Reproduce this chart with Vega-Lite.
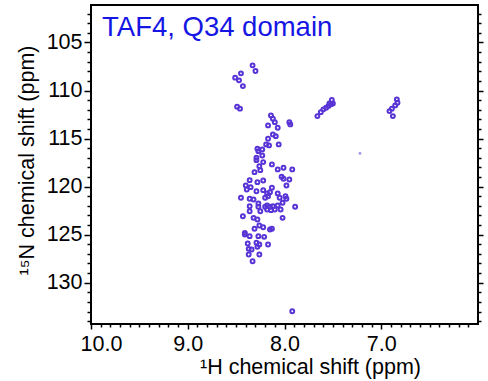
{
  "$schema": "https://vega.github.io/schema/vega-lite/v6.json",
  "width": 387,
  "height": 319,
  "autosize": {"type": "none"},
  "padding": {"left": 91, "top": 5, "right": 10, "bottom": 57},
  "background": "white",
  "config": {
    "view": {"stroke": "black", "strokeWidth": 2},
    "font": "Liberation Sans",
    "axis": {
      "grid": false, "domain": false, "tickColor": "black", "labelColor": "black", "titleColor": "black",
      "labelFont": "Liberation Sans", "titleFont": "Liberation Sans", "labelFontSize": 21.5, "titleFontSize": 21.5,
      "titleFontWeight": "normal", "tickWidth": 1.5
    }
  },
  "datasets": {
    "peaks": [
      {"H": 8.33, "N": 107.38}, {"H": 8.30, "N": 107.97}, {"H": 8.51, "N": 108.66}, {"H": 8.45, "N": 108.21},
      {"H": 8.47, "N": 108.94}, {"H": 8.43, "N": 109.54}, {"H": 8.49, "N": 111.68}, {"H": 8.46, "N": 111.89},
      {"H": 7.66, "N": 112.66}, {"H": 7.625, "N": 112.25}, {"H": 7.598, "N": 111.96}, {"H": 7.57, "N": 111.79},
      {"H": 7.546, "N": 111.62}, {"H": 7.518, "N": 111.44}, {"H": 7.50, "N": 111.34}, {"H": 7.511, "N": 110.99},
      {"H": 7.536, "N": 111.34},
      {"H": 6.88, "N": 112.66}, {"H": 6.915, "N": 112.14}, {"H": 6.89, "N": 111.89}, {"H": 6.856, "N": 111.55},
      {"H": 6.832, "N": 111.27}, {"H": 6.839, "N": 110.92},
      {"H": 8.14, "N": 112.59}, {"H": 8.12, "N": 112.93}, {"H": 8.10, "N": 113.29}, {"H": 8.17, "N": 113.63},
      {"H": 8.07, "N": 113.87}, {"H": 7.95, "N": 113.29}, {"H": 7.94, "N": 113.53}, {"H": 8.12, "N": 114.57},
      {"H": 8.17, "N": 115.02}, {"H": 8.09, "N": 114.75}, {"H": 8.06, "N": 115.61}, {"H": 8.19, "N": 115.61},
      {"H": 8.16, "N": 115.71}, {"H": 8.28, "N": 116.06}, {"H": 8.27, "N": 116.31}, {"H": 8.23, "N": 116.13},
      {"H": 8.23, "N": 116.76}, {"H": 8.29, "N": 117.0}, {"H": 8.29, "N": 117.25}, {"H": 8.22, "N": 117.45},
      {"H": 8.13, "N": 117.69}, {"H": 8.26, "N": 117.87}, {"H": 8.25, "N": 118.29}, {"H": 8.31, "N": 118.5},
      {"H": 8.07, "N": 118.21}, {"H": 8.01, "N": 118.04}, {"H": 7.92, "N": 118.21}, {"H": 8.03, "N": 118.98},
      {"H": 8.01, "N": 119.18}, {"H": 7.95, "N": 119.26}, {"H": 8.36, "N": 119.33}, {"H": 8.28, "N": 119.54},
      {"H": 8.22, "N": 119.36}, {"H": 8.40, "N": 119.88}, {"H": 8.39, "N": 120.3}, {"H": 8.35, "N": 120.06},
      {"H": 8.13, "N": 120.12}, {"H": 7.98, "N": 119.88}, {"H": 8.29, "N": 120.48}, {"H": 8.22, "N": 120.37},
      {"H": 8.18, "N": 120.71}, {"H": 8.17, "N": 121.0}, {"H": 8.15, "N": 120.58}, {"H": 8.20, "N": 121.16},
      {"H": 8.07, "N": 120.71}, {"H": 8.05, "N": 121.16}, {"H": 7.99, "N": 121.0}, {"H": 7.98, "N": 121.27},
      {"H": 8.45, "N": 121.16}, {"H": 8.36, "N": 121.27}, {"H": 8.32, "N": 121.34}, {"H": 8.36, "N": 122.04},
      {"H": 8.27, "N": 121.76}, {"H": 8.27, "N": 122.1}, {"H": 8.20, "N": 122.1}, {"H": 8.18, "N": 121.96},
      {"H": 8.15, "N": 122.1}, {"H": 8.12, "N": 122.04}, {"H": 8.07, "N": 121.96}, {"H": 8.02, "N": 121.68},
      {"H": 7.89, "N": 122.1}, {"H": 8.36, "N": 122.56}, {"H": 8.25, "N": 122.56}, {"H": 8.18, "N": 122.38},
      {"H": 8.14, "N": 122.45}, {"H": 8.10, "N": 122.38}, {"H": 8.04, "N": 122.38}, {"H": 8.32, "N": 123.25},
      {"H": 8.28, "N": 123.42}, {"H": 8.43, "N": 123.08}, {"H": 8.02, "N": 123.25}, {"H": 8.26, "N": 124.05},
      {"H": 8.31, "N": 124.39}, {"H": 8.22, "N": 124.23}, {"H": 8.15, "N": 124.46}, {"H": 8.13, "N": 124.39},
      {"H": 8.41, "N": 124.81}, {"H": 8.41, "N": 124.99}, {"H": 8.36, "N": 125.16}, {"H": 8.27, "N": 125.16},
      {"H": 8.21, "N": 125.23}, {"H": 8.38, "N": 125.92}, {"H": 8.29, "N": 125.85}, {"H": 8.26, "N": 126.03},
      {"H": 8.17, "N": 126.03}, {"H": 8.37, "N": 126.48}, {"H": 8.34, "N": 126.55}, {"H": 8.28, "N": 126.27},
      {"H": 8.37, "N": 127.07}, {"H": 8.26, "N": 127.07}, {"H": 8.33, "N": 127.77}, {"H": 7.92, "N": 132.97}
    ],
    "weak": [{"H": 7.22, "N": 116.55}],
    "label": [{"H": 9.886, "N": 104.33, "text": "TAF4, Q34 domain"}]
  },
  "data": {"name": "peaks"},
  "resolve": {"axis": {"x": "independent", "y": "independent"}},
  "layer": [
    {
      "mark": {"type": "point", "shape": "circle", "filled": false, "strokeWidth": 2, "size": 15, "color": "#5834d6", "opacity": 1},
      "encoding": {
        "x": {"field": "H", "type": "quantitative", "scale": {"domain": [6, 10], "reverse": true, "nice": false, "zero": false},
          "axis": {"orient": "bottom", "values": [10, 9, 8, 7], "format": ".1f", "tickSize": 5, "labelPadding": 4,
            "labelFlush": true, "labelFlushOffset": 11, "title": "¹H chemical shift (ppm)",
            "titleX": 219, "titleY": 49, "titleBaseline": "alphabetic", "titleAlign": "center", "titleAnchor": null}},
        "y": {"field": "N", "type": "quantitative", "scale": {"domain": [101.1, 134.3], "reverse": true, "nice": false, "zero": false},
          "axis": {"orient": "left", "values": [105, 110, 115, 120, 125, 130], "tickSize": 7, "labelPadding": 2,
            "title": "¹⁵N chemical shift (ppm)", "titleX": -64, "titleY": 155, "titleAngle": -90,
            "titleBaseline": "middle", "titleAlign": "center", "titleAnchor": null}}
      }
    },
    {
      "mark": {"type": "point", "opacity": 0},
      "encoding": {
        "x": {"field": "H", "type": "quantitative", "scale": {"domain": [6, 10], "reverse": true, "nice": false, "zero": false},
          "axis": {"orient": "bottom", "values": [6.1,6.2,6.3,6.4,6.5,6.6,6.7,6.8,6.9,7.1,7.2,7.3,7.4,7.5,7.6,7.7,7.8,7.9,8.1,8.2,8.3,8.4,8.5,8.6,8.7,8.8,8.9,9.1,9.2,9.3,9.4,9.5,9.6,9.7,9.8,9.9],
            "tickSize": 3, "labels": false, "title": null}},
        "y": {"field": "N", "type": "quantitative", "scale": {"domain": [101.1, 134.3], "reverse": true, "nice": false, "zero": false},
          "axis": {"orient": "left", "values": [102,103,104,106,107,108,109,111,112,113,114,116,117,118,119,121,122,123,124,126,127,128,129,131,132,133,134],
            "tickSize": 4, "labels": false, "title": null}}
      }
    },
    {
      "mark": {"type": "point", "opacity": 0},
      "encoding": {
        "x": {"field": "H", "type": "quantitative", "scale": {"domain": [6, 10], "reverse": true, "nice": false, "zero": false}, "axis": null},
        "y": {"field": "N", "type": "quantitative", "scale": {"domain": [101.1, 134.3], "reverse": true, "nice": false, "zero": false},
          "axis": {"orient": "right", "values": [102,103,104,106,107,108,109,111,112,113,114,116,117,118,119,121,122,123,124,126,127,128,129,131,132,133,134],
            "tickSize": 3, "labels": false, "title": null}}
      }
    },
    {
      "mark": {"type": "point", "opacity": 0},
      "encoding": {
        "x": {"field": "H", "type": "quantitative", "scale": {"domain": [6, 10], "reverse": true, "nice": false, "zero": false}, "axis": null},
        "y": {"field": "N", "type": "quantitative", "scale": {"domain": [101.1, 134.3], "reverse": true, "nice": false, "zero": false},
          "axis": {"orient": "right", "values": [105, 110, 115, 120, 125, 130], "tickSize": 5, "labels": false, "title": null}}
      }
    },
    {
      "data": {"name": "weak"},
      "mark": {"type": "point", "shape": "circle", "filled": true, "size": 8, "color": "#8a78e0", "opacity": 0.8},
      "encoding": {
        "x": {"field": "H", "type": "quantitative", "scale": {"domain": [6, 10], "reverse": true, "nice": false, "zero": false}, "axis": null},
        "y": {"field": "N", "type": "quantitative", "scale": {"domain": [101.1, 134.3], "reverse": true, "nice": false, "zero": false}, "axis": null}
      }
    },
    {
      "data": {"name": "label"},
      "mark": {"type": "text", "align": "left", "baseline": "alphabetic", "fontSize": 27.5, "font": "Liberation Sans", "color": "#1616e4"},
      "encoding": {
        "x": {"field": "H", "type": "quantitative", "scale": {"domain": [6, 10], "reverse": true, "nice": false, "zero": false}, "axis": null},
        "y": {"field": "N", "type": "quantitative", "scale": {"domain": [101.1, 134.3], "reverse": true, "nice": false, "zero": false}, "axis": null},
        "text": {"field": "text"}
      }
    }
  ]
}
